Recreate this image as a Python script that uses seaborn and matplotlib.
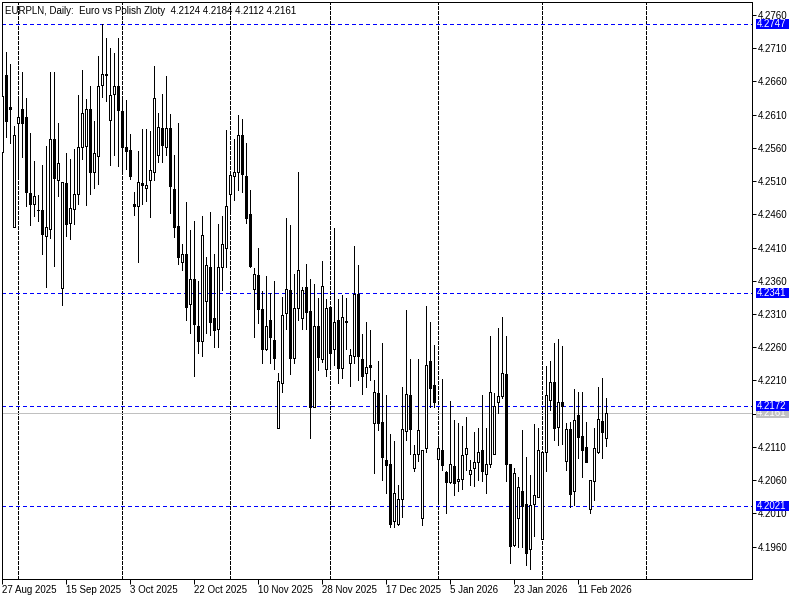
import numpy as np
import pandas as pd
import matplotlib
matplotlib.use("Agg")
import matplotlib.pyplot as plt
import seaborn as sns
from matplotlib.transforms import blended_transform_factory
from matplotlib.patches import Rectangle

# ---- data (EURPLN daily) ----
open_ = [4.2554, 4.2670, 4.2622, 4.2441, 4.2597, 4.2618, 4.2606, 4.2492, 4.2475, 4.2467,
         4.2466, 4.2428, 4.2438, 4.2573, 4.2511, 4.2349, 4.2507, 4.2447, 4.2468, 4.2490,
         4.2561, 4.2563, 4.2618, 4.2523, 4.2548, 4.2654, 4.2671, 4.2602, 4.2641, 4.2653,
         4.2616, 4.2561, 4.2557, 4.2476, 4.2472, 4.2507, 4.2500, 4.2511, 4.2523, 4.2550,
         4.2590, 4.2561, 4.2590, 4.2498, 4.2442, 4.2389, 4.2401, 4.2325, 4.2362, 4.2292,
         4.2270, 4.2329, 4.2381, 4.2304, 4.2287, 4.2381, 4.2409, 4.2491, 4.2517, 4.2523,
         4.2579, 4.2518, 4.2461, 4.2347, 4.2369, 4.2318, 4.2258, 4.2301, 4.2271, 4.2138,
         4.2206, 4.2311, 4.2346, 4.2244, 4.2319, 4.2304, 4.2351, 4.2315, 4.2170, 4.2292,
         4.2243, 4.2227, 4.2320, 4.2258, 4.2301, 4.2229, 4.2298, 4.2236, 4.2247, 4.2340,
         4.2242, 4.2221, 4.2233, 4.2146, 4.2191, 4.2147, 4.2090, 4.2084, 4.1998, 4.1994,
         4.2031, 4.2134, 4.2188, 4.2079, 4.2100, 4.2003, 4.2109, 4.2239, 4.2203, 4.2092,
         4.2105, 4.2072, 4.2057, 4.2081, 4.2058, 4.2061, 4.2099, 4.2069, 4.2078, 4.2087,
         4.2105, 4.2069, 4.2084, 4.2099, 4.2178, 4.2187, 4.2220, 4.2085, 4.1962, 4.2003,
         4.2044, 4.2024, 4.1957, 4.2024, 4.2035, 4.1972, 4.2102, 4.2180, 4.2208, 4.2140,
         4.2177, 4.2089, 4.2137, 4.2043, 4.2158, 4.2126, 4.2110, 4.2016, 4.2058, 4.2102,
         4.2149, 4.2124]
high = [4.2641, 4.2704, 4.2686, 4.2593, 4.2635, 4.2674, 4.2635, 4.2582, 4.2540, 4.2489,
        4.2534, 4.2563, 4.2674, 4.2674, 4.2597, 4.2508, 4.2552, 4.2543, 4.2558, 4.2640,
        4.2677, 4.2633, 4.2653, 4.2600, 4.2698, 4.2747, 4.2725, 4.2710, 4.2703, 4.2725,
        4.2632, 4.2632, 4.2581, 4.2494, 4.2555, 4.2588, 4.2588, 4.2586, 4.2683, 4.2612,
        4.2641, 4.2668, 4.2611, 4.2549, 4.2597, 4.2415, 4.2479, 4.2436, 4.2450, 4.2360,
        4.2458, 4.2396, 4.2464, 4.2400, 4.2445, 4.2458, 4.2587, 4.2524, 4.2573, 4.2610,
        4.2604, 4.2568, 4.2497, 4.2379, 4.2409, 4.2344, 4.2367, 4.2341, 4.2359, 4.2221,
        4.2336, 4.2455, 4.2444, 4.2370, 4.2524, 4.2351, 4.2385, 4.2362, 4.2355, 4.2334,
        4.2390, 4.2332, 4.2321, 4.2439, 4.2332, 4.2339, 4.2334, 4.2258, 4.2412, 4.2384,
        4.2280, 4.2298, 4.2286, 4.2211, 4.2239, 4.2266, 4.2188, 4.2130, 4.2119, 4.2053,
        4.2200, 4.2316, 4.2243, 4.2113, 4.2243, 4.2105, 4.2322, 4.2298, 4.2263, 4.2120,
        4.2212, 4.2073, 4.2179, 4.2151, 4.2146, 4.2141, 4.2155, 4.2090, 4.2133, 4.2139,
        4.2188, 4.2138, 4.2277, 4.2191, 4.2289, 4.2305, 4.2277, 4.2085, 4.2078, 4.2065,
        4.2135, 4.2095, 4.2068, 4.2144, 4.2138, 4.2103, 4.2232, 4.2239, 4.2266, 4.2272,
        4.2262, 4.2146, 4.2147, 4.2197, 4.2193, 4.2192, 4.2148, 4.2060, 4.2139, 4.2200,
        4.2213, 4.2184]
low = [4.2549, 4.2576, 4.2567, 4.2441, 4.2515, 4.2546, 4.2472, 4.2444, 4.2458, 4.2450,
       4.2401, 4.2350, 4.2424, 4.2383, 4.2487, 4.2323, 4.2427, 4.2423, 4.2445, 4.2475,
       4.2543, 4.2474, 4.2491, 4.2500, 4.2506, 4.2637, 4.2630, 4.2534, 4.2549, 4.2533,
       4.2527, 4.2529, 4.2513, 4.2459, 4.2389, 4.2476, 4.2480, 4.2456, 4.2512, 4.2539,
       4.2539, 4.2549, 4.2462, 4.2426, 4.2385, 4.2376, 4.2301, 4.2281, 4.2217, 4.2252,
       4.2247, 4.2281, 4.2278, 4.2261, 4.2261, 4.2346, 4.2381, 4.2462, 4.2482, 4.2496,
       4.2494, 4.2447, 4.2381, 4.2276, 4.2296, 4.2236, 4.2256, 4.2236, 4.2227, 4.2138,
       4.2193, 4.2287, 4.2220, 4.2236, 4.2301, 4.2287, 4.2287, 4.2123, 4.2170, 4.2226,
       4.2238, 4.2216, 4.2233, 4.2233, 4.2206, 4.2213, 4.2258, 4.2202, 4.2236, 4.2211,
       4.2189, 4.2200, 4.2211, 4.2071, 4.2135, 4.2060, 4.2040, 4.1989, 4.1989, 4.1992,
       4.2005, 4.2120, 4.2099, 4.2074, 4.2089, 4.1992, 4.2102, 4.2170, 4.2170, 4.2030,
       4.2075, 4.2011, 4.2055, 4.2038, 4.2043, 4.2046, 4.2075, 4.2053, 4.2051, 4.2060,
       4.2059, 4.2040, 4.2080, 4.2099, 4.2161, 4.2184, 4.2059, 4.1936, 4.1961, 4.1960,
       4.1960, 4.1932, 4.1927, 4.1976, 4.2035, 4.1972, 4.2073, 4.2166, 4.2120, 4.2113,
       4.2115, 4.2075, 4.2019, 4.2023, 4.2093, 4.2065, 4.2087, 4.2010, 4.2030, 4.2101,
       4.2094, 4.2112]
close = [4.2638, 4.2600, 4.2619, 4.2580, 4.2606, 4.2598, 4.2494, 4.2475, 4.2487, 4.2466,
         4.2430, 4.2441, 4.2573, 4.2514, 4.2538, 4.2508, 4.2445, 4.2469, 4.2490, 4.2562,
         4.2612, 4.2618, 4.2524, 4.2552, 4.2653, 4.2671, 4.2669, 4.2640, 4.2653, 4.2617,
         4.2562, 4.2556, 4.2517, 4.2472, 4.2508, 4.2504, 4.2504, 4.2527, 4.2635, 4.2591,
         4.2564, 4.2590, 4.2502, 4.2441, 4.2396, 4.2401, 4.2321, 4.2362, 4.2295, 4.2270,
         4.2429, 4.2384, 4.2298, 4.2286, 4.2381, 4.2416, 4.2472, 4.2519, 4.2523, 4.2579,
         4.2521, 4.2455, 4.2383, 4.2370, 4.2317, 4.2257, 4.2292, 4.2276, 4.2244, 4.2209,
         4.2309, 4.2347, 4.2244, 4.2319, 4.2376, 4.2346, 4.2313, 4.2170, 4.2292, 4.2246,
         4.2352, 4.2319, 4.2252, 4.2298, 4.2229, 4.2305, 4.2299, 4.2249, 4.2340, 4.2247,
         4.2217, 4.2231, 4.2230, 4.2193, 4.2146, 4.2095, 4.2083, 4.1994, 4.2040, 4.2031,
         4.2137, 4.2189, 4.2137, 4.2100, 4.2135, 4.2105, 4.2233, 4.2199, 4.2178, 4.2109,
         4.2083, 4.2057, 4.2084, 4.2055, 4.2062, 4.2098, 4.2108, 4.2075, 4.2087, 4.2102,
         4.2073, 4.2085, 4.2192, 4.2172, 4.2186, 4.2221, 4.2085, 4.1961, 4.2070, 4.2049,
         4.2021, 4.1951, 4.2023, 4.2038, 4.2105, 4.2102, 4.2188, 4.2208, 4.2139, 4.2177,
         4.2172, 4.2137, 4.2039, 4.2151, 4.2125, 4.2106, 4.2088, 4.2060, 4.2108, 4.2152,
         4.2132, 4.2161]

date_tick_pos = [0, 16, 32, 48, 64, 80, 96, 112, 128, 144]
date_tick_labels = ["27 Aug 2025", "15 Sep 2025", "3 Oct 2025", "22 Oct 2025",
                    "10 Nov 2025", "28 Nov 2025", "17 Dec 2025", "5 Jan 2026",
                    "23 Jan 2026", "11 Feb 2026"]
month_sep_pos = [4, 30, 57, 82, 109, 135, 161]
price_ticks = [4.1960, 4.2010, 4.2060, 4.2110, 4.2160, 4.2210, 4.2260, 4.2310, 4.2360,
               4.2410, 4.2460, 4.2510, 4.2560, 4.2610, 4.2660, 4.2710, 4.2760]
hidden_tick = 4.2160  # covered by the bid label in the reference
level_lines = [4.2747, 4.2341, 4.2172, 4.2021]
bid_price = 4.2161
title = "EURPLN, Daily:  Euro vs Polish Zloty  4.2124 4.2184 4.2112 4.2161"

# ---- style ----
sns.set_theme(style="white")
plt.rcParams["font.family"] = ["Liberation Sans", "DejaVu Sans"]

df = pd.DataFrame({"open": open_, "high": high, "low": low, "close": close})
df["bar"] = np.arange(len(df))
df["up"] = df["close"] >= df["open"]
df["body_low"] = df[["open", "close"]].min(axis=1)
df["body_h"] = (df["close"] - df["open"]).abs()

fig = plt.figure(figsize=(8, 6), dpi=100)
ax = fig.add_axes([2 / 800, 21 / 600, 750 / 800, 577 / 600])
ax.set_facecolor("white")

px = 0.72  # one pixel in points

# month separators (vertical dashed grid)
for m in month_sep_pos:
    ax.axvline(m, color="black", lw=px, ls=(0, (3, 2)), zorder=1, antialiased=False)

# horizontal level lines
for lv in level_lines:
    ax.axhline(lv, color="#0000FF", lw=px, ls=(0, (4, 3)), zorder=2, antialiased=False)
ax.axhline(bid_price, color="#C0C0C0", lw=px, zorder=2, antialiased=False)

# candles
ax.vlines(df["bar"], df["low"], df["high"], color="black", lw=px, zorder=3,
          antialiased=False)
ax.bar(df["bar"], df["body_h"], bottom=df["body_low"], width=0.5,
       color=np.where(df["up"], "white", "black"), edgecolor="black",
       linewidth=px, zorder=4, antialiased=False)

ax.set_xlim(-0.08, 187.4)
ax.set_ylim(4.19112, 4.27796)

for s in ax.spines.values():
    s.set_color("black")
    s.set_linewidth(px)
    s.set_visible(True)

ax.yaxis.tick_right()
ax.set_yticks(price_ticks)
ax.set_yticklabels(["" if abs(p - hidden_tick) < 1e-9 else f"{p:.4f}"
                    for p in price_ticks])
ax.tick_params(axis="y", which="major", right=True, left=False, direction="out",
               length=3, width=px, color="black", labelsize=7, pad=1.5,
               labelcolor="black")
ax.set_xticks(date_tick_pos)
ax.set_xticklabels(date_tick_labels)
ax.tick_params(axis="x", which="major", bottom=True, direction="out", length=3.5,
               width=px, color="black", labelsize=7, pad=1, labelcolor="black")
for lbl in ax.get_xticklabels():
    lbl.set_ha("left")
ax.grid(False)

# price labels on the right axis (bid label first, blue labels drawn over it)
tr = blended_transform_factory(ax.transAxes, ax.transData)
box_h = 0.0015
box_x = 1.0053
box_w = 0.044
labels = [(bid_price, "#C0C0C0", 10)] + [(v, "#0000FF", 12) for v in level_lines]
for lv, col, z in labels:
    ax.add_patch(Rectangle((box_x, lv - box_h / 2), box_w, box_h, transform=tr,
                           facecolor=col, edgecolor="none", clip_on=False, zorder=z))
    ax.text(box_x + 0.0015, lv, f"{lv:.4f}", transform=tr, color="white",
            fontsize=7, va="center", ha="left", clip_on=False, zorder=z + 1)

ax.text(0.004, 0.993, title, transform=ax.transAxes, va="top", ha="left",
        fontsize=7, color="black", zorder=14)

fig.savefig("out.png", dpi=100, facecolor="white")
